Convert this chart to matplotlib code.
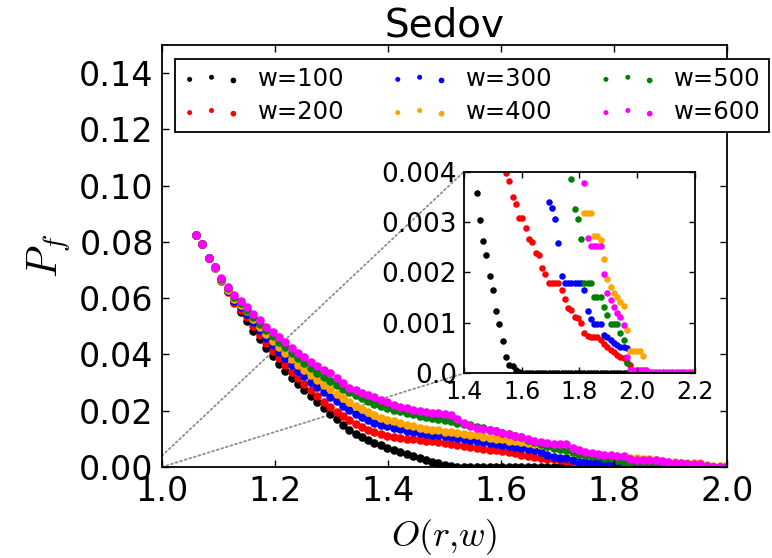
import numpy as np
import matplotlib
matplotlib.use("Agg")
import matplotlib.pyplot as plt
from matplotlib.collections import PathCollection
from matplotlib.legend_handler import HandlerPathCollection
from matplotlib.patches import ConnectionPatch

plt.rcParams['mathtext.fontset'] = 'cm'
nan = np.nan

# O(r,w) sample positions shared by every window size
x_grid = np.array([
    1.060, 1.071, 1.083, 1.094, 1.105, 1.117, 1.128, 1.139, 1.150, 1.162,
    1.173, 1.184, 1.196, 1.207, 1.218, 1.230, 1.241, 1.252, 1.263, 1.275,
    1.286, 1.297, 1.309, 1.320, 1.331, 1.343, 1.354, 1.365, 1.376, 1.388,
    1.399, 1.410, 1.422, 1.433, 1.444, 1.456, 1.467, 1.478, 1.489, 1.501,
    1.512, 1.523, 1.535, 1.546, 1.557, 1.569, 1.580, 1.591, 1.602, 1.614,
    1.625, 1.636, 1.648, 1.659, 1.670, 1.682, 1.693, 1.704, 1.715, 1.727,
    1.738, 1.749, 1.761, 1.772, 1.783, 1.795, 1.806, 1.817, 1.828, 1.840,
    1.851, 1.862, 1.874, 1.885, 1.896, 1.908, 1.919, 1.930, 1.941, 1.953,
    1.964, 1.975, 1.987, 1.998, 2.009, 2.021, 2.032, 2.043, 2.054, 2.066,
    2.077, 2.088, 2.100, 2.111, 2.122, 2.134, 2.145, 2.156, 2.167, 2.179,
    2.190])

# P_f in units of 1e-3, main panel (first 84 samples)
pf_100 = [82.5, 79.2, 74.4, 71.0, 66.5, 62.5, 58.5, 55.2, 51.8, 48.5,
          45.5, 42.2, 39.3, 36.5, 34.2, 31.8, 29.6, 27.5, 25.4, 23.1,
          21.0, 18.9, 16.9, 15.0, 13.3, 11.8, 10.6, 9.5, 8.5, 7.7,
          6.9, 6.1, 5.3, 4.6, 3.9, 3.1, 2.5, 1.9, 1.3, 0.8,
          0.4, 0.15, 0.05, 0, 0, 0, 0, 0, 0, 0,
          0, 0, 0, 0, 0, 0, 0, 0, 0, 0,
          0, 0, 0, 0, 0, 0, 0, 0, 0, 0,
          0, 0, 0, 0, 0, 0, 0, 0, 0, 0,
          0, 0, 0, 0]
pf_200 = [82.5, 79.2, 74.4, 70.7, 66.0, 62.2, 58.4, 55.8, 53.3, 50.2,
          47.0, 44.0, 41.3, 38.6, 36.2, 33.7, 31.5, 29.4, 27.2, 25.1,
          23.2, 21.3, 19.6, 18.0, 16.6, 15.3, 14.1, 13.1, 12.3, 11.6,
          11.1, 10.7, 10.4, 10.1, 9.9, 9.6, 9.4, 9.1, 8.8, 8.5,
          8.2, 7.9, 7.6, 7.2, 6.8, 6.5, 6.2, 5.9, 5.6, 5.2,
          4.8, 4.4, 3.9, 3.6, 3.3, 3.0, 2.7, 2.4, 2.1, 1.8,
          1.65, 1.47, 1.29, 1.26, 1.12, 1.09, 1.0, 0.9, 0.79, 0.73,
          0.73, 0.73, 0.66, 0.59, 0.53, 0.46, 0.43, 0.36, 0.33, 0.30,
          0.23, 0.17, 0, 0]
pf_300 = [82.5, 79.2, 74.4, 70.8, 66.3, 62.6, 59.0, 56.8, 54.5, 51.6,
          48.6, 45.9, 43.2, 40.8, 38.6, 36.2, 34.2, 32.2, 30.3, 28.4,
          26.6, 24.9, 23.3, 21.7, 20.3, 19.0, 17.8, 16.7, 15.8, 15.0,
          14.4, 13.9, 13.4, 12.9, 12.5, 12.1, 11.8, 11.5, 11.2, 10.9,
          10.6, 10.4, 10.1, 9.7, 9.3, 8.9, 8.6, 8.2, 7.9, 7.5,
          7.2, 6.8, 6.4, 6.0, 5.4, 4.4, 3.40, 3.27, 3.07, 2.58,
          1.93, 1.80, 1.80, 1.80, 1.80, 1.80, 1.80, 1.65, 1.24, 1.07,
          0.97, 0.97, 0.97, 0.76, 0.73, 0.66, 0.61, 0.56, 0.53, 0.52,
          0.50, 0, 0, 0]
pf_400 = [82.5, 79.2, 74.4, 70.9, 66.6, 63.0, 59.6, 57.5, 55.3, 52.5,
          49.8, 47.2, 44.8, 42.6, 40.5, 38.3, 36.4, 34.6, 32.8, 31.0,
          29.3, 27.7, 26.1, 24.6, 23.1, 21.8, 20.6, 19.4, 18.4, 17.5,
          16.8, 16.2, 15.5, 14.9, 14.4, 14.0, 13.6, 13.3, 13.0, 12.6,
          12.3, 12.1, 11.8, 11.5, 11.2, 10.8, 10.4, 10.1, 9.8, 9.4,
          9.1, 8.8, 8.4, 8.1, 7.7, 7.3, 6.8, 6.3, 5.9, 5.5,
          5.0, 4.8, 4.5, 4.2, 3.9, 3.7, 3.5, 3.19, 3.19, 3.19,
          2.73, 2.73, 2.64, 2.26, 1.88, 1.72, 1.59, 1.51, 1.42, 1.34,
          0.85, 0.44, 0.44, 0.44]
pf_500 = [82.5, 79.2, 74.4, 71.0, 66.8, 63.5, 60.3, 58.2, 55.9, 53.3,
          51.0, 48.6, 46.4, 44.5, 42.6, 40.5, 38.7, 36.9, 35.2, 33.5,
          31.9, 30.6, 29.1, 27.8, 26.6, 25.5, 24.4, 23.3, 22.4, 21.6,
          21.0, 20.4, 19.8, 19.2, 18.7, 18.3, 17.9, 17.5, 17.1, 16.6,
          16.2, 15.8, 15.4, 14.9, 14.3, 13.7, 13.2, 12.7, 12.2, 11.7,
          11.1, 10.5, 9.7, 9.0, 8.2, 7.5, 6.9, 6.5, 5.9, 5.4,
          4.6, 4.3, 4.0, 3.85, 3.25, 3.06, 2.66, 1.80, 1.80, 1.80,
          1.52, 1.52, 1.52, 1.32, 1.15, 0.98, 0.98, 0.98, 0.79, 0.66,
          0.21, 0, 0, 0]
pf_600 = [82.5, 79.2, 74.4, 71.2, 67.0, 64.0, 61.0, 59.0, 56.8, 54.4,
          52.3, 49.9, 48.0, 46.3, 44.5, 42.3, 40.6, 39.0, 37.3, 35.9,
          34.5, 33.3, 31.8, 30.0, 28.2, 27.4, 26.2, 25.6, 24.8, 23.8,
          23.0, 22.2, 21.4, 20.8, 20.3, 19.9, 19.6, 19.3, 19.1, 18.8,
          18.4, 17.0, 15.6, 14.6, 14.0, 13.6, 13.2, 12.7, 12.2, 11.6,
          11.0, 10.5, 9.9, 9.4, 8.9, 8.6, 8.2, 8.1, 8.0, 6.8,
          6.0, 5.3, 5.0, 4.7, 4.4, 4.1, 3.9, 3.77, 2.68, 2.53,
          2.53, 2.53, 2.53, 1.98, 1.60, 1.45, 1.32, 1.19, 1.12, 0.95,
          0.33, 0.07, 0.07, 0.07]

# inset tail, samples x_grid[34:], nan = above the inset range
ins_100 = [3.57, 3.04, 2.62, 2.35, 1.94, 1.65, 1.24, 0.97, 0.64, 0.33,
           0.17, 0.15, 0.07, 0.03, 0, 0, 0, 0, 0, 0,
           0, 0, 0, 0, 0, 0, 0, 0, 0, 0,
           0, 0, 0, 0, 0, 0, 0, 0, 0, 0,
           0, 0, 0, 0, 0, 0, 0, 0, 0, 0,
           0, 0, 0, 0, 0, 0, 0, 0, 0, 0,
           0, 0, 0, 0, 0, 0, 0]
ins_200 = [nan, nan, nan, nan, nan, nan, nan, nan, nan, 3.97,
           3.81, 3.50, 3.36, 3.09, 3.09, 2.89, 2.66, 2.61, 2.38, 2.35,
           2.08, 1.98, 1.80, 1.80, 1.80, 1.80, 1.65, 1.47, 1.29, 1.26,
           1.12, 1.09, 1.00, 0.79, 0.75, 0.73, 0.73, 0.73, 0.66, 0.59,
           0.53, 0.46, 0.43, 0.36, 0.33, 0.30, 0.23, 0.17, 0, 0,
           0, 0, 0, 0, 0, 0, 0, 0, 0, 0,
           0, 0, 0, 0, 0, 0, 0]
ins_300 = [nan, nan, nan, nan, nan, nan, nan, nan, nan, nan,
           nan, nan, nan, nan, nan, nan, nan, nan, nan, nan,
           nan, nan, 3.40, 3.27, 3.07, 2.58, 1.93, 1.80, 1.80, 1.80,
           1.80, 1.80, 1.80, 1.65, 1.24, 1.07, 0.97, 0.97, 0.97, 0.76,
           0.73, 0.66, 0.61, 0.56, 0.53, 0.52, 0.50, 0, 0, 0,
           0, 0, 0, 0, 0, 0, 0, 0, 0, 0,
           0, 0, 0, 0, 0, 0, 0]
ins_400 = [nan, nan, nan, nan, nan, nan, nan, nan, nan, nan,
           nan, nan, nan, nan, nan, nan, nan, nan, nan, nan,
           nan, nan, nan, nan, nan, nan, nan, nan, nan, nan,
           nan, nan, nan, 3.19, 3.19, 3.19, 2.73, 2.73, 2.64, 2.26,
           1.88, 1.72, 1.59, 1.51, 1.42, 1.34, 0.85, 0.44, 0.44, 0.44,
           0.44, 0.34, 0.07, 0, 0, 0, 0, 0, 0, 0,
           0, 0, 0, 0, 0, 0, 0]
ins_500 = [nan, nan, nan, nan, nan, nan, nan, nan, nan, nan,
           nan, nan, nan, nan, nan, nan, nan, nan, nan, nan,
           nan, nan, nan, nan, nan, nan, nan, nan, nan, 3.85,
           3.25, 3.06, 2.66, 1.80, 1.80, 1.80, 1.52, 1.52, 1.52, 1.32,
           1.15, 0.98, 0.98, 0.98, 0.79, 0.66, 0.21, 0, 0, 0,
           0, 0, 0, 0, 0, 0, 0, 0, 0, 0,
           0, 0, 0, 0, 0, 0, 0]
ins_600 = [nan, nan, nan, nan, nan, nan, nan, nan, nan, nan,
           nan, nan, nan, nan, nan, nan, nan, nan, nan, nan,
           nan, nan, nan, nan, nan, nan, nan, nan, nan, nan,
           nan, nan, nan, 3.77, 2.68, 2.53, 2.53, 2.53, 2.53, 1.98,
           1.60, 1.45, 1.32, 1.19, 1.12, 0.95, 0.33, 0.07, 0.07, 0.07,
           0.07, 0.07, 0.07, 0.03, 0.03, 0.03, 0.03, 0.03, 0.03, 0.03,
           0.03, 0.03, 0.03, 0.03, 0.03, 0.03, 0.03]

labels = ['w=100', 'w=200', 'w=300', 'w=400', 'w=500', 'w=600']
colors = ['#000000', '#ff0000', '#0000ff', '#ffa500', '#008000', '#ff00ff']
main_series = [pf_100, pf_200, pf_300, pf_400, pf_500, pf_600]
inset_series = [ins_100, ins_200, ins_300, ins_400, ins_500, ins_600]

main_xticks = [1.0, 1.2, 1.4, 1.6, 1.8, 2.0]
main_yticks = [0.00, 0.02, 0.04, 0.06, 0.08, 0.10, 0.12, 0.14]
ins_xticks = [1.4, 1.6, 1.8, 2.0, 2.2]
ins_yticks = [0.0, 0.001, 0.002, 0.003, 0.004]
ins_yticklabels = ['0.0', '0.001', '0.002', '0.003', '0.004']

x_main = x_grid[:84]
x_ins = x_grid[34:]

fig = plt.figure(figsize=(7.72, 5.58), dpi=100)
ax = fig.add_axes([0.2098, 0.1631, 0.7319, 0.7563])
axins = fig.add_axes([0.6010, 0.3310, 0.2992, 0.3613])

# dotted zoom guides from the main panel to the inset corners, behind the data
for ya, yb in [(0.004, 1.0), (0.0, 0.0)]:
    con = ConnectionPatch(xyA=(1.0, ya), coordsA=ax.transData,
                          xyB=(0.0, yb), coordsB=axins.transAxes,
                          color='0.55', linestyle=':', linewidth=1.3, zorder=0.5)
    ax.add_artist(con)

handles = []
for vals, c, lab in zip(main_series, colors, labels):
    h = ax.scatter(x_main, np.array(vals) / 1000.0, s=38, color=c, linewidths=0, label=lab)
    handles.append(h)

ax.set_xlim(1.0, 2.0)
ax.set_ylim(0.0, 0.15)
ax.set_xticks(main_xticks)
ax.set_yticks(main_yticks)
ax.set_xticklabels(['%.1f' % v for v in main_xticks])
ax.set_yticklabels(['%.2f' % v for v in main_yticks])
ax.tick_params(direction='in', top=True, right=True, length=5, width=1, labelsize=24, pad=6)
for sp in ax.spines.values():
    sp.set_linewidth(1.3)
ax.set_title('Sedov', fontsize=28, pad=6)
ax.set_xlabel(r'$O(r{,}w)$', fontsize=26, labelpad=6)
ax.set_ylabel(r'$P_f$', fontsize=30, labelpad=4)

# legend runs past the right edge of the figure, as in the original
leg = ax.legend(handles=handles, ncol=3, loc='upper left', bbox_to_anchor=(0.0223, 0.9668),
                borderaxespad=0, scatterpoints=3, fontsize=17.5, frameon=True, fancybox=False,
                framealpha=1, edgecolor='k', handlelength=2.4, columnspacing=1.9,
                labelspacing=0.38, handletextpad=0.7, borderpad=0.32,
                handler_map={PathCollection: HandlerPathCollection(sizes=[13, 13, 17])})
leg.get_frame().set_linewidth(1.3)

for vals, c in zip(inset_series, colors):
    axins.scatter(x_ins, np.array(vals) / 1000.0, s=22, color=c, linewidths=0)
axins.set_xlim(1.4, 2.2)
axins.set_ylim(0.0, 0.004)
axins.set_xticks(ins_xticks)
axins.set_xticklabels(['%.1f' % v for v in ins_xticks])
axins.set_yticks(ins_yticks)
axins.set_yticklabels(ins_yticklabels)
axins.tick_params(direction='in', top=True, right=True, length=4, width=1, pad=5)
axins.tick_params(axis='x', labelsize=17)
axins.tick_params(axis='y', labelsize=19)
for sp in axins.spines.values():
    sp.set_linewidth(1.3)

fig.savefig('out.png', dpi=100)
